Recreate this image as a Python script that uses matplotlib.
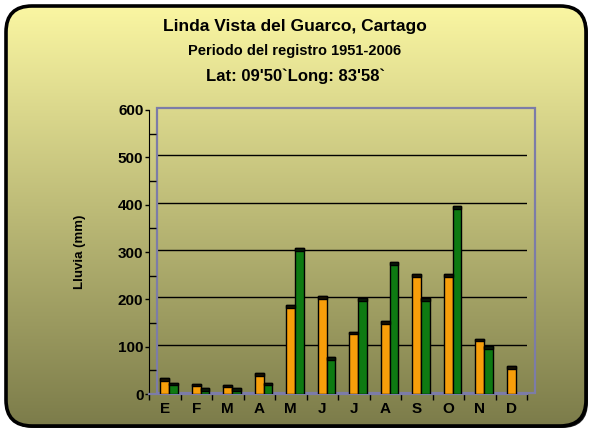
import numpy as np
import matplotlib
matplotlib.use("Agg")
import matplotlib.pyplot as plt
from matplotlib.patches import FancyBboxPatch, Rectangle
from matplotlib.transforms import ScaledTranslation

# data
meses = ["E", "F", "M", "A", "M", "J", "J", "A", "S", "O", "N", "D"]
serie_naranja = [34, 22, 20, 45, 187, 206, 132, 154, 253, 253, 117, 59]
serie_verde = [24, 12, 12, 24, 309, 78, 202, 279, 202, 397, 101, np.nan]
y_ticks = [0, 100, 200, 300, 400, 500, 600]

plt.rcParams['font.family'] = ['Liberation Sans', 'DejaVu Sans']

W, H = 590, 430
fig = plt.figure(figsize=(W / 100, H / 100), dpi=100)
fig.patch.set_facecolor('white')

# ---- fondo: caja redondeada con degradado ----
bg = fig.add_axes([0, 0, 1, 1])
bg.set_xlim(0, W)
bg.set_ylim(0, H)
bg.axis('off')

top_c = np.array([250, 246, 162]) / 255
bot_c = np.array([124, 124, 74]) / 255
t = np.linspace(0, 1, 256)[:, None]
grad = top_c * (1 - t) + bot_c * t
grad = np.repeat(grad[:, None, :], 2, axis=1)

shadow = FancyBboxPatch((8, 2), 580, 420, boxstyle="round,pad=0,rounding_size=26",
                        facecolor='#202020', edgecolor='none', zorder=0)
bg.add_patch(shadow)
box = FancyBboxPatch((6, 4), 580, 420, boxstyle="round,pad=0,rounding_size=26",
                     facecolor='none', edgecolor='black', linewidth=2.6, zorder=3)
im = bg.imshow(grad, extent=[6, 586, 4, 424], aspect='auto', zorder=1)
bg.add_patch(box)
im.set_clip_path(box)

# ---- titulos ----
fig.text(0.5, 1 - 26 / H, "Linda Vista del Guarco, Cartago", ha='center', va='center',
         fontsize=12.5, fontweight='bold')
fig.text(0.5, 1 - 51 / H, "Periodo del registro 1951-2006", ha='center', va='center',
         fontsize=10.5, fontweight='bold')
fig.text(0.5, 1 - 76 / H, "Lat: 09'50`Long: 83'58`", ha='center', va='center',
         fontsize=12, fontweight='bold')

# ---- grafico ----
ax = fig.add_axes([149 / W, 1 - 394 / H, 378 / W, 284 / H])
ax.set_facecolor('none')
ax.set_xlim(-0.5, 11.5)
ax.set_ylim(0, 600)

back = ax.transData + ScaledTranslation(8 / 100, 2 / 100, fig.dpi_scale_trans)
ax.hlines(y_ticks[1:-1], -0.5, 11.5, colors='black', linewidth=1.0, transform=back, zorder=1)
ax.add_patch(Rectangle((-0.5, -2), 12, 602, transform=back, facecolor='none',
                       edgecolor='#7C7CA8', linewidth=1.6, zorder=1, clip_on=False))

x = np.arange(len(meses))
w = 0.28
cap = 6
ax.bar(x, serie_naranja, width=w, color='#F79E0A', edgecolor='black', linewidth=1.0, zorder=3)
ax.bar(x + w, serie_verde, width=w, color='#0E7A12', edgecolor='black', linewidth=1.0, zorder=3)
ax.bar(x, cap, bottom=np.array(serie_naranja) - cap, width=w, color='#1A1200',
       edgecolor='black', linewidth=1.0, zorder=4)
ax.bar(x + w, cap, bottom=np.array(serie_verde) - cap, width=w, color='#081A08',
       edgecolor='black', linewidth=1.0, zorder=4)

for s in ['top', 'right']:
    ax.spines[s].set_visible(False)
ax.spines['left'].set_color('black')
ax.spines['bottom'].set_color('#7C7CA8')
ax.spines['bottom'].set_linewidth(1.6)

ax.set_yticks(y_ticks)
ax.set_yticks(np.arange(50, 600, 100), minor=True)
ax.tick_params(axis='y', which='major', direction='out', length=3, width=1, pad=1,
               labelsize=11)
ax.tick_params(axis='y', which='minor', direction='in', length=5, width=1)
for lab in ax.get_yticklabels():
    lab.set_fontweight('bold')

ax.set_xticks(x)
ax.set_xticklabels(meses, fontsize=11, fontweight='bold')
ax.set_xticks(np.arange(-0.5, 12, 1), minor=True)
ax.tick_params(axis='x', which='major', length=0, pad=6)
ax.tick_params(axis='x', which='minor', direction='out', length=4, width=1, color='black')

ax.set_ylabel("Lluvia (mm)", fontsize=9.5, fontweight='bold')
ax.yaxis.set_label_coords(-0.167, 0.5)

fig.savefig("out.png", dpi=100, facecolor='white')
